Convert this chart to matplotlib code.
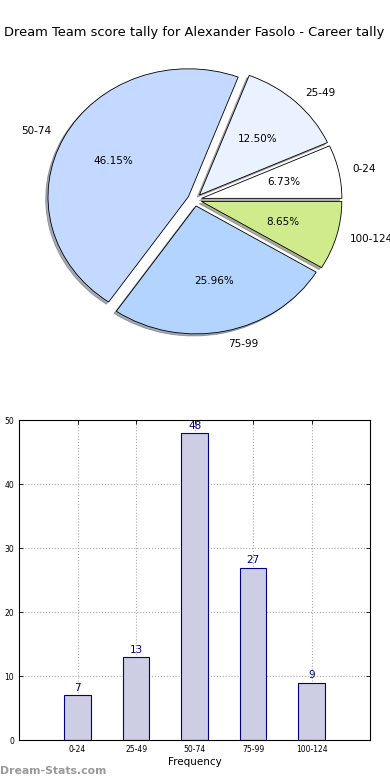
import numpy as np
import matplotlib
matplotlib.use('Agg')
import matplotlib.pyplot as plt

title = 'Dream Team score tally for Alexander Fasolo - Career tally'
categories = ['0-24', '25-49', '50-74', '75-99', '100-124']
counts = [7, 13, 48, 27, 9]
pie_colors = ['#ffffff', '#eaf2ff', '#c4d9ff', '#b3d4ff', '#d0eb8c']

fig = plt.figure(figsize=(3.9, 7.8), dpi=100)
fig.subplots_adjust(left=0.049, right=0.949, bottom=0.051, top=0.949, hspace=0.19)

# pie
ax1 = fig.add_subplot(211)
wedges, texts, autotexts = ax1.pie(counts, labels=categories, colors=pie_colors,
                                   explode=[0.05] * len(counts), autopct='%1.2f%%',
                                   shadow={'ox': -0.012, 'oy': -0.012, 'shade': 0.6},
                                   startangle=0,
                                   wedgeprops={'edgecolor': 'black', 'linewidth': 0.6},
                                   textprops={'fontsize': 7.5})
ax1.set_aspect('auto')
ax1.set_xlim(-1.25, 1.25)
ax1.set_ylim(-1.25, 1.25)
ax1.set_title(title, fontsize=9.4, pad=3)

# bars
ax2 = fig.add_subplot(212)
x = np.arange(len(categories))
bars = ax2.bar(x, counts, width=0.45, color='#cdcde3', edgecolor='#000080', linewidth=0.8)
for xi, c in zip(x, counts):
    ax2.text(xi, c + 0.4, str(c), ha='center', va='bottom', color='#000080', fontsize=7.5)
ax2.set_xlim(-1, 5)
ax2.set_ylim(0, 50)
ax2.set_xticks(x)
ax2.set_xticklabels(categories)
ax2.set_yticks(range(0, 51, 10))
ax2.tick_params(direction='in', top=True, right=True, labelsize=5.5, length=3, width=0.6)
ax2.grid(True, linestyle=':', color='#aaaaaa', linewidth=0.8)
ax2.set_axisbelow(True)
ax2.set_xlabel('Frequency', fontsize=7.5, labelpad=2)

fig.text(0.0, 0.008, 'Dream-Stats.com', fontsize=7.8, color='#999999', fontweight='bold')

fig.savefig('out.png', dpi=100)
